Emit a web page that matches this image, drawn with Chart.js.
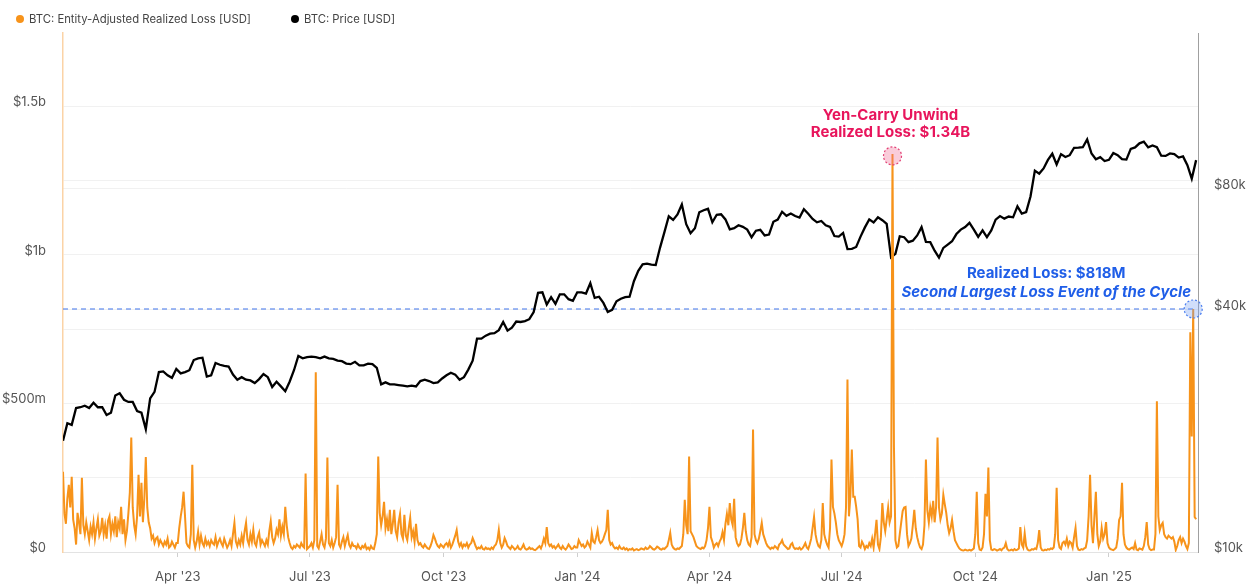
<!DOCTYPE html>
<html>
<head>
<meta charset="utf-8">
<script src="https://cdn.jsdelivr.net/npm/chart.js@4.4.1/dist/chart.umd.min.js"></script>
<style>
  html, body { margin: 0; padding: 0; background: #fff; }
  #wrap { position: relative; width: 1254px; height: 587px; }
  #legend { position: absolute; left: 16px; top: 12px; display: flex; gap: 40px;
            font: 11.3px Inter, sans-serif; color: #444; line-height: 14px; }
  #legend .item { display: flex; align-items: center; }
  #legend .dot { width: 8px; height: 8px; border-radius: 50%; margin-right: 5px; }
</style>
</head>
<body>
<div id="wrap">
  <canvas id="chart_loss_canvas" width="1254" height="587"></canvas>
  <div id="legend"></div>
</div>
<script>
// day numbers count from 1 Jan 2023 (day 0)
const firstDay = 11;          // 12 Jan 2023
const lastDay = 791;          // 2 Mar 2025
const priceStep = 3;

// entity-adjusted realized loss, $M, one value per day from 12 Jan 2023
const realizedLossM = [
  270,130,95,180,226,150,253,110,80,25,132,100,60,250,90,60,100,70,40,85,
  60,100,45,80,110,55,70,115,60,90,45,105,120,60,95,70,120,50,100,80,152,60,110,40,70,130,200,385,
  150,90,60,120,260,120,233,100,180,320,150,100,80,45,55,30,45,50,25,40,30,20,35,25,45,15,20,35,25,15,30,
  30,80,118,150,203,120,30,20,15,60,294,40,15,35,68,25,55,30,20,45,25,35,20,40,30,25,50,20,35,45,
  30,20,45,30,15,25,40,20,60,98,35,20,40,25,55,30,70,98,40,25,60,35,75,30,20,50,65,25,40,30,20,
  40,25,70,103,50,30,45,75,60,110,55,85,60,152,90,50,30,15,10,20,15,25,20,15,30,20,15,264,10,15,
  20,30,15,40,605,20,12,35,60,25,15,45,318,30,20,40,15,30,50,226,25,15,35,50,20,40,57,25,15,30,20,
  20,12,25,15,10,20,15,25,10,15,8,20,12,10,30,60,321,132,90,120,169,80,110,70,142,60,95,142,70,50,100,
  128,60,45,125,55,40,80,115,50,70,35,95,40,25,30,20,15,25,18,12,10,20,35,57,45,30,20,15,25,20,
  15,25,30,20,35,15,25,40,55,74,35,20,30,15,25,20,30,15,25,30,47,35,20,10,15,12,20,10,8,15,10,
  12,8,15,10,20,25,40,74,30,15,25,47,35,20,15,10,20,15,8,12,20,10,8,15,25,12,8,10,15,10,
  12,8,6,10,15,20,12,25,45,30,84,30,20,25,15,20,12,18,25,15,10,20,12,8,15,25,18,10,12,20,15,
  15,40,30,20,25,15,20,35,25,15,64,35,30,50,74,40,30,35,45,60,74,142,40,25,30,18,12,15,10,20,12,
  10,15,8,12,6,10,8,12,5,8,10,6,8,12,10,8,15,10,12,20,15,10,8,12,18,15,10,8,12,
  10,15,20,40,64,25,15,10,8,12,10,15,20,60,176,90,60,321,70,60,50,35,20,15,12,10,15,12,20,40,80,
  152,50,35,15,25,30,20,35,45,67,40,95,128,90,165,110,90,179,50,30,20,25,45,80,132,70,40,25,20,50,
  412,60,40,30,45,70,98,60,45,30,20,15,10,15,12,20,15,10,25,30,40,25,20,15,10,12,25,30,15,10,12,
  10,15,8,12,20,30,15,10,25,44,80,118,60,35,20,15,40,165,60,40,25,15,80,311,152,130,100,60,40,30,
  20,35,60,150,581,120,186,345,186,186,152,110,20,15,35,25,10,20,15,30,20,45,15,60,108,25,10,50,165,100,70,
  110,150,100,120,1340,355,40,15,20,60,100,138,150,152,60,20,30,45,90,142,80,50,30,15,10,25,90,311,140,100,150,
  120,172,100,150,385,150,110,130,192,160,132,90,64,80,108,70,40,30,20,12,8,6,5,8,6,5,7,5,8,12,
  60,203,30,8,6,15,60,196,120,284,40,8,6,10,8,5,7,10,6,12,15,30,10,5,6,8,5,10,6,8,12,
  84,25,15,63,20,8,5,6,10,8,12,10,30,74,15,6,5,8,6,10,8,12,10,15,60,216,40,15,10,30,
  35,25,45,20,35,30,15,50,81,20,8,6,10,8,12,15,40,120,260,90,30,120,203,60,20,35,81,45,60,101,30,
  15,10,8,6,10,15,45,108,120,233,60,25,15,10,8,12,15,10,30,8,6,12,10,8,20,50,101,25,10,6,8,
  8,60,507,120,74,90,98,60,50,45,55,50,45,50,35,7,20,40,50,30,45,35,20,10,30,740,389,818,118,110
];

// BTC price, $k, every third day from 12 Jan 2023
const priceK = [
  18.9,20.9,20.7,22.8,22.9,23.1,22.8,
  23.5,22.9,22.9,21.9,22.2,24.5,24.8,23.9,23.6,
  23.6,22.4,22.2,20.2,24.1,25.0,28.0,28.1,27.5,27.1,28.5,
  27.8,28.0,28.3,30.0,30.3,30.4,27.3,27.5,29.5,29.2,
  29.0,28.9,27.6,26.8,27.2,26.8,26.7,26.3,26.9,27.7,
  27.2,25.7,26.5,25.8,25.1,26.5,28.3,30.7,30.3,30.5,
  30.6,30.5,30.3,30.6,30.3,30.2,29.9,29.8,29.4,29.3,
  29.7,29.1,29.1,29.4,29.3,28.7,26.1,26.4,26.1,26.1,26.0,
  25.9,25.8,25.9,25.8,26.6,26.8,26.6,26.3,26.4,27.0,
  27.5,27.9,27.6,26.8,27.2,28.4,29.9,33.9,33.9,34.5,
  34.9,35.0,35.6,37.3,35.5,36.1,37.4,37.3,37.5,37.9,
  39.5,44.1,44.2,41.2,43.0,41.4,43.7,43.7,42.5,42.1,
  44.2,44.2,43.9,46.6,42.8,43.1,41.6,39.5,40.0,42.0,42.6,
  43.0,43.1,47.1,50.0,51.9,52.1,51.8,51.7,57.1,
  62.4,68.3,66.9,69.0,73.1,65.3,62.0,63.8,69.9,70.7,71.3,
  66.0,68.9,69.1,67.1,63.4,63.8,64.9,64.3,63.3,60.6,
  62.9,63.2,61.2,61.5,66.2,67.0,70.1,68.5,69.4,68.4,
  67.8,71.1,69.3,67.3,66.0,66.5,64.9,64.3,61.0,60.8,
  62.1,56.6,56.7,57.3,60.8,64.1,67.1,65.9,67.9,66.8,
  65.4,54.0,55.1,60.9,60.6,58.9,59.4,61.2,64.2,59.0,58.9,
  56.1,53.9,57.0,58.1,59.2,61.7,63.3,64.2,65.8,63.3,
  60.7,63.0,60.6,63.0,67.0,68.4,67.4,68.2,67.9,72.3,
  69.4,70.0,76.5,88.7,87.2,89.8,94.3,97.7,91.9,97.5,
  95.9,96.9,101.1,101.2,101.4,106.1,97.8,94.7,95.8,93.7,
  94.4,98.1,96.9,94.7,94.5,100.5,101.3,103.7,104.7,101.3,102.4,
  101.4,96.6,96.5,97.9,97.5,95.6,96.2,91.5,84.7,
  94.2
];

const seriesLabels = ['BTC: Entity-Adjusted Realized Loss [USD]', 'BTC: Price [USD]'];
const seriesColors = ['#f7931a', '#000000'];

const quarterDays = [90, 181, 273, 365, 456, 547, 639, 731];
const quarterLabels = ["Apr '23", "Jul '23", "Oct '23", "Jan '24", "Apr '24", "Jul '24", "Oct '24", "Jan '25"];

const lossTicks = [0, 500, 1000, 1500];
const lossTickLabels = ['$0', '$500m', '$1b', '$1.5b'];
const priceTicks = [10, 40, 80];
const priceTickLabels = ['$10k', '$40k', '$80k'];

const yenCarry = { day: 582, value: 1340, lines: ['Yen-Carry Unwind', 'Realized Loss: $1.34B'] };
const secondEvent = { day: 789, value: 818, lines: ['Realized Loss: $818M', 'Second Largest Loss Event of the Cycle'] };

const font = 'Inter, "Noto Sans", sans-serif';

const lossPoints = realizedLossM.map((v, i) => ({ x: firstDay + i, y: v }));
const pricePoints = priceK.map((v, i) => ({ x: firstDay + i * priceStep, y: v }));

const legend = document.getElementById('legend');
seriesLabels.forEach((label, i) => {
    const item = document.createElement('div');
    item.className = 'item';
    const dot = document.createElement('span');
    dot.className = 'dot';
    dot.style.background = seriesColors[i];
    const text = document.createElement('span');
    text.textContent = label;
    item.appendChild(dot);
    item.appendChild(text);
    legend.appendChild(item);
});

const annotationPlugin = {
    id: 'lossEvents',
    beforeDatasetsDraw(chart) {
        const { ctx, chartArea, scales } = chart;
        const y = scales.yLoss.getPixelForValue(secondEvent.value);
        const xEnd = scales.x.getPixelForValue(secondEvent.day);
        ctx.save();
        ctx.strokeStyle = '#3f74ec';
        ctx.lineWidth = 1.2;
        ctx.setLineDash([5, 4]);
        ctx.beginPath();
        ctx.moveTo(chartArea.left, y);
        ctx.lineTo(xEnd, y);
        ctx.stroke();
        ctx.restore();
    },
    afterDatasetsDraw(chart) {
        const { ctx, scales } = chart;
        const circle = (px, py, fill, stroke) => {
            ctx.save();
            ctx.beginPath();
            ctx.arc(px, py, 9, 0, Math.PI * 2);
            ctx.fillStyle = fill;
            ctx.fill();
            ctx.setLineDash([2, 2]);
            ctx.lineWidth = 1.2;
            ctx.strokeStyle = stroke;
            ctx.stroke();
            ctx.restore();
        };

        // yen-carry unwind
        let px = scales.x.getPixelForValue(yenCarry.day);
        let py = scales.yLoss.getPixelForValue(yenCarry.value);
        circle(px, py + 2, 'rgba(240, 110, 150, 0.35)', '#e23f74');
        ctx.save();
        ctx.fillStyle = '#e8155c';
        ctx.font = 'bold 15px ' + font;
        ctx.textAlign = 'center';
        ctx.textBaseline = 'middle';
        ctx.fillText(yenCarry.lines[0], px - 2, py - 38);
        ctx.fillText(yenCarry.lines[1], px - 2, py - 21);
        ctx.restore();

        // second largest event
        px = scales.x.getPixelForValue(secondEvent.day);
        py = scales.yLoss.getPixelForValue(secondEvent.value);
        circle(px, py, 'rgba(120, 160, 240, 0.35)', '#4a7ef0');
        ctx.save();
        ctx.fillStyle = '#1f5ee8';
        ctx.textAlign = 'center';
        ctx.textBaseline = 'middle';
        ctx.font = 'bold 15px ' + font;
        ctx.fillText(secondEvent.lines[0], px - 147, py - 36);
        ctx.font = 'italic bold 15px ' + font;
        ctx.fillText(secondEvent.lines[1], px - 147, py - 17);
        ctx.restore();
    }
};

const ctx = document.getElementById('chart_loss_canvas').getContext('2d');
new Chart(ctx, {
    type: 'line',
    data: {
        datasets: [{
            label: seriesLabels[0],
            data: lossPoints,
            yAxisID: 'yLoss',
            borderColor: seriesColors[0],
            borderWidth: 2,
            pointRadius: 0,
            tension: 0,
            order: 0
        }, {
            label: seriesLabels[1],
            data: pricePoints,
            yAxisID: 'yPrice',
            borderColor: seriesColors[1],
            borderWidth: 2.3,
            pointRadius: 0,
            tension: 0,
            order: 1
        }]
    },
    options: {
        responsive: false,
        animation: false,
        layout: { padding: { top: 33, left: 0, right: 0, bottom: 0 } },
        plugins: {
            legend: { display: false },
            tooltip: { enabled: false }
        },
        scales: {
            x: {
                type: 'linear',
                min: firstDay,
                max: lastDay + 1.3,
                afterBuildTicks: (scale) => { scale.ticks = quarterDays.map(v => ({ value: v })); },
                afterFit: (scale) => { scale.height = 35; },
                grid: { drawOnChartArea: false, drawTicks: true, tickLength: 5, color: '#cfcfcf' },
                border: { color: '#e3e3e3' },
                ticks: {
                    autoSkip: false,
                    maxRotation: 0,
                    padding: 12,
                    color: '#555',
                    font: { family: font, size: 13 },
                    callback: (value, index) => quarterLabels[index]
                }
            },
            yLoss: {
                type: 'linear',
                position: 'left',
                min: 0,
                max: 1747,
                afterBuildTicks: (scale) => { scale.ticks = [0, 250, 500, 750, 1000, 1250, 1500].map(v => ({ value: v })); },
                afterFit: (scale) => { scale.width = 63; },
                grid: { drawTicks: false, color: '#f1f1f1' },
                border: { color: '#fbd3a6', width: 1.5 },
                ticks: {
                    padding: 17,
                    labelOffset: -4,
                    color: '#555',
                    font: { family: font, size: 13 },
                    callback: (value) => {
                        const i = lossTicks.indexOf(value);
                        return i >= 0 ? lossTickLabels[i] : '';
                    }
                }
            },
            yPrice: {
                type: 'logarithmic',
                position: 'right',
                min: 10,
                max: 195,
                afterBuildTicks: (scale) => { scale.ticks = priceTicks.map(v => ({ value: v })); },
                afterFit: (scale) => { scale.width = 56; },
                grid: { drawOnChartArea: true, drawTicks: false, color: '#f1f1f1' },
                border: { color: '#a0a0a0' },
                ticks: {
                    padding: 16,
                    labelOffset: -4,
                    color: '#555',
                    font: { family: font, size: 13 },
                    callback: (value) => {
                        const i = priceTicks.indexOf(value);
                        return i >= 0 ? priceTickLabels[i] : '';
                    }
                }
            }
        }
    },
    plugins: [annotationPlugin]
});
</script>
</body>
</html>
